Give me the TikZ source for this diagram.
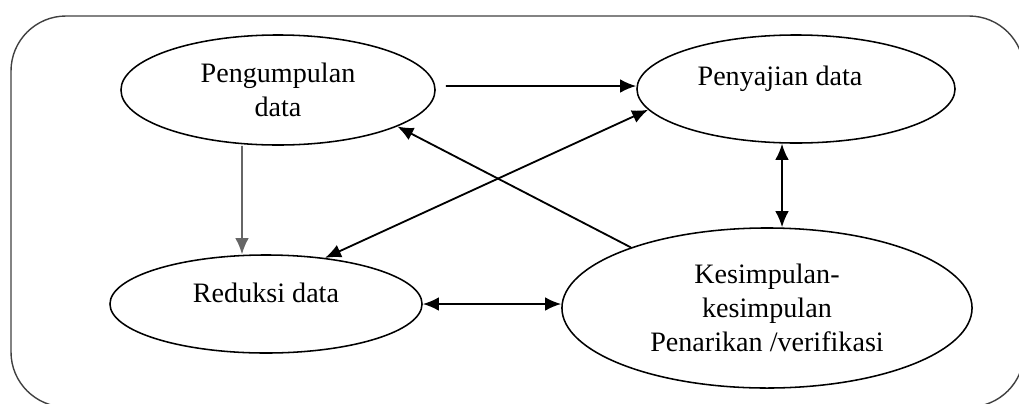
\documentclass[tikz,border=0pt]{standalone}
\usepackage{fontspec}
\setmainfont{Liberation Serif}
\usetikzlibrary{shapes, arrows.meta, calc}

\begin{document}
\begin{tikzpicture}[x=0.025cm, y=-0.025cm,
  txt/.style={font=\fontsize{20}{24}\selectfont},
  oval/.style={ellipse, draw, line width=1.1pt, inner sep=0, align=center, txt},
  arr/.style={line width=1.3pt, -{Latex[length=4mm,width=3.4mm]}},
  dbl/.style={line width=1.3pt, {Latex[length=4mm,width=3.4mm]}-{Latex[length=4mm,width=3.4mm]}}]
  \useasboundingbox (0,0) rectangle (1019,403);
  \clip (0,0) rectangle (1019,403);

  % frame
  \draw [line width=1pt, black!75, rounded corners=1.375cm] (11,16) rectangle (1024,407);

  \node [oval, minimum width=7.85cm, minimum height=2.75cm] (pengumpulan) at (278,90) {Pengumpulan\\data};
  \node [oval, minimum width=7.95cm, minimum height=2.7cm,
         label={[txt, xshift=-0.4cm, yshift=0.25cm]center:Penyajian data}] (penyajian) at (796,89) {};
  \node [oval, minimum width=7.8cm, minimum height=2.45cm,
         label={[txt, yshift=0.27cm]center:Reduksi data}] (reduksi) at (266,304) {};
  \node [oval, minimum width=10.25cm, minimum height=4cm] (kesimpulan) at (767,308) {Kesimpulan-\\kesimpulan\\Penarikan /verifikasi};

  \draw [arr] ([xshift=0.25cm, yshift=0.1cm]pengumpulan.east) -- ([yshift=0.075cm]penyajian.west);
  \draw [arr, black!60] ([xshift=-0.9cm]pengumpulan.south) -- ([xshift=-0.6cm]reduksi.north);
  \draw [arr] (kesimpulan.156) -- (pengumpulan.-17);
  \draw [dbl] (penyajian.188) -- (reduksi.38);
  \draw [dbl] ([xshift=-0.35cm]penyajian.south) -- ([xshift=0.375cm]kesimpulan.north);
  \draw [dbl] (reduksi.east) -- (reduksi.east -| kesimpulan.west);
\end{tikzpicture}
\end{document}
